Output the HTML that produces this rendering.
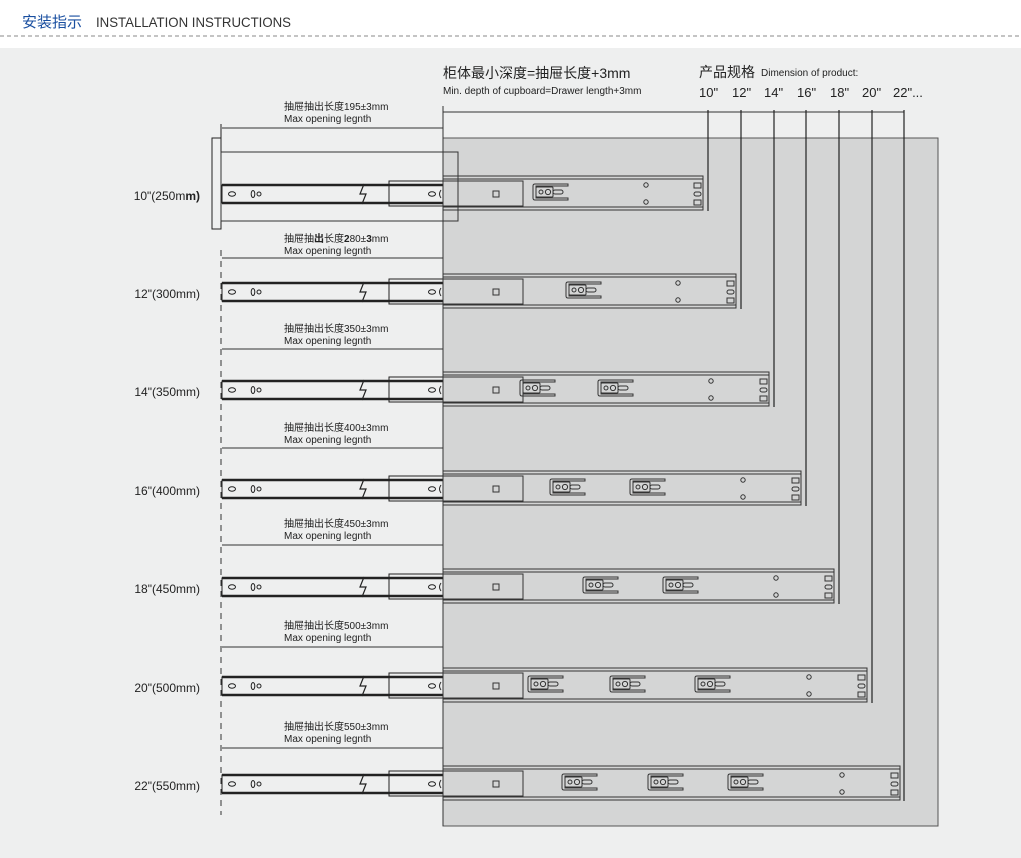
<!DOCTYPE html>
<html><head><meta charset="utf-8"><style>
html,body{margin:0;padding:0;background:#fff;}
svg{display:block;}
text{font-family:"Liberation Sans","Noto Sans CJK SC",sans-serif;fill:#222;}
</style></head><body>
<svg width="1021" height="858" viewBox="0 0 1021 858" xmlns="http://www.w3.org/2000/svg">
<defs>
<g id="left" fill="none" stroke="#222">
  <rect x="222" y="-9" width="221" height="18" fill="#eeefef" stroke-width="1"/>
  <line x1="222" y1="-9" x2="443" y2="-9" stroke-width="2.5"/>
  <line x1="222" y1="9" x2="443" y2="9" stroke-width="2.5"/>
  <ellipse cx="232" cy="0" rx="3.5" ry="2.2" stroke-width="1"/>
  <ellipse cx="253" cy="0" rx="1.8" ry="3.5" stroke-width="1"/>
  <circle cx="259" cy="0" r="2" stroke-width="1"/>
  <path d="M364 -10 L360 0 L366 0 L362 10" stroke-width="1.2" fill="none"/>
  <rect x="389" y="-13" width="54" height="25" stroke-width="1"/>
  <ellipse cx="432" cy="0" rx="3.5" ry="2.2" stroke-width="1"/>
  <path d="M441 -4 Q438 0 441 4" stroke-width="1"/>
</g>
<g id="slot" fill="none" stroke="#333" stroke-width="1">
  <path d="M35 -10 H2 Q0 -10 0 -8 V4 Q0 6 2 6 H35 V4 H3 V-8 H35 Z"/>
  <rect x="3" y="-7" width="17" height="10" rx="1"/>
  <circle cx="8" cy="-2" r="2"/>
  <circle cx="15" cy="-2" r="2.6"/>
  <rect x="20" y="-4" width="10" height="4" rx="2"/>
</g>
<g id="hole" fill="none" stroke="#333" stroke-width="1">
  <circle cx="0" cy="-9" r="2.2"/><circle cx="0" cy="8" r="2.2"/>
</g>
<g id="tabs" fill="none" stroke="#333" stroke-width="1">
  <rect x="0" y="-11" width="7" height="5"/><rect x="0" y="-2" width="7" height="4" rx="2"/><rect x="0" y="6" width="7" height="5"/>
</g>
</defs>
<rect x="0" y="0" width="1021" height="858" fill="#fff"/>
<text x="22" y="27" font-size="15" style="fill:#1a4fa0;font-family:'Liberation Sans','Noto Sans CJK SC',sans-serif">安装指示</text>
<text x="96" y="27" font-size="14" style="fill:#333" textLength="195" lengthAdjust="spacingAndGlyphs">INSTALLATION INSTRUCTIONS</text>
<line x1="0" y1="36" x2="1021" y2="36" stroke="#888" stroke-width="1" stroke-dasharray="4,3"/>
<rect x="0" y="48" width="1021" height="810" fill="#eeefef"/>
<rect x="443" y="138" width="495" height="688" fill="#d4d5d5" stroke="#555" stroke-width="1"/>

<text x="443" y="78" font-size="14">柜体最小深度=抽屉长度+3mm</text>
<text x="443" y="94" font-size="10">Min. depth of cupboard=Drawer length+3mm</text>
<text x="699" y="77" font-size="14">产品规格</text>
<text x="761" y="76" font-size="10">Dimension of product:</text>
<g font-size="13"><text x="699" y="97">10"</text><text x="732" y="97">12"</text><text x="764" y="97">14"</text><text x="797" y="97">16"</text><text x="830" y="97">18"</text><text x="862" y="97">20"</text><text x="893" y="97">22"...</text></g>
<line x1="443" y1="112" x2="904" y2="112" stroke="#333" stroke-width="1"/>
<line x1="443" y1="106" x2="443" y2="826" stroke="#333" stroke-width="1"/>

<g stroke="#222" stroke-width="1.2">
<line x1="708" y1="110" x2="708" y2="211"/>
<line x1="741" y1="110" x2="741" y2="309"/>
<line x1="774" y1="110" x2="774" y2="407"/>
<line x1="806" y1="110" x2="806" y2="506"/>
<line x1="839" y1="110" x2="839" y2="604"/>
<line x1="872" y1="110" x2="872" y2="703"/>
<line x1="904" y1="110" x2="904" y2="801"/>
</g>

<line x1="221" y1="250" x2="221" y2="815" stroke="#333" stroke-width="1" stroke-dasharray="6,5"/>

<!-- row1 drawer -->
<rect x="212" y="138" width="9" height="91" fill="#eeefef" stroke="#222"/>
<line x1="221" y1="124" x2="221" y2="229" stroke="#222"/>
<rect x="221" y="152" width="237" height="69" fill="none" stroke="#333"/>

<g font-size="10">
<text x="284" y="110">抽屉抽出长度195±3mm</text><text x="284" y="122">Max opening legnth</text>
<text x="284" y="242">抽屉抽<tspan font-weight="bold">出</tspan>长度<tspan font-weight="bold">2</tspan>80±<tspan font-weight="bold">3</tspan>mm</text><text x="284" y="254">Max opening legnth</text>
<text x="284" y="332">抽屉抽出长度350±3mm</text><text x="284" y="344">Max opening legnth</text>
<text x="284" y="431">抽屉抽出长度400±3mm</text><text x="284" y="443">Max opening legnth</text>
<text x="284" y="527">抽屉抽出长度450±3mm</text><text x="284" y="539">Max opening legnth</text>
<text x="284" y="629">抽屉抽出长度500±3mm</text><text x="284" y="641">Max opening legnth</text>
<text x="284" y="730">抽屉抽出长度550±3mm</text><text x="284" y="742">Max opening legnth</text>
</g>
<g stroke="#333" stroke-width="1">
<line x1="222" y1="128" x2="443" y2="128"/><line x1="222" y1="258" x2="443" y2="258"/><line x1="222" y1="349" x2="443" y2="349"/><line x1="222" y1="448" x2="443" y2="448"/><line x1="222" y1="545" x2="443" y2="545"/><line x1="222" y1="647" x2="443" y2="647"/><line x1="222" y1="748" x2="443" y2="748"/>
</g>

<g font-size="12" text-anchor="end">
<text x="200" y="200">10"(250m<tspan font-weight="bold">m)</tspan></text>
<text x="200" y="298">12"(300mm)</text>
<text x="200" y="396">14"(350mm)</text>
<text x="200" y="495">16"(400mm)</text>
<text x="200" y="593">18"(450mm)</text>
<text x="200" y="692">20"(500mm)</text>
<text x="200" y="790">22"(550mm)</text>
</g>

<!-- rows -->
<g id="r1" transform="translate(0,194)">
<use href="#left"/>
<g fill="none" stroke="#333"><path d="M443 -18 H703 V16 H443 M443 -15 H703 M443 13 H703"/><rect x="443" y="-13" width="80" height="25"/><rect x="493" y="-3" width="6" height="6"/></g>
<use href="#slot" x="533"/><use href="#hole" x="646"/><use href="#tabs" x="694"/>
</g>
<g transform="translate(0,292)">
<use href="#left"/>
<g fill="none" stroke="#333"><path d="M443 -18 H736 V16 H443 M443 -15 H736 M443 13 H736"/><rect x="443" y="-13" width="80" height="25"/><rect x="493" y="-3" width="6" height="6"/></g>
<use href="#slot" x="566"/><use href="#hole" x="678"/><use href="#tabs" x="727"/>
</g>
<g transform="translate(0,390)">
<use href="#left"/>
<g fill="none" stroke="#333"><path d="M443 -18 H769 V16 H443 M443 -15 H769 M443 13 H769"/><rect x="443" y="-13" width="80" height="25"/><rect x="493" y="-3" width="6" height="6"/></g>
<use href="#slot" x="520"/><use href="#slot" x="598"/><use href="#hole" x="711"/><use href="#tabs" x="760"/>
</g>
<g transform="translate(0,489)">
<use href="#left"/>
<g fill="none" stroke="#333"><path d="M443 -18 H801 V16 H443 M443 -15 H801 M443 13 H801"/><rect x="443" y="-13" width="80" height="25"/><rect x="493" y="-3" width="6" height="6"/></g>
<use href="#slot" x="550"/><use href="#slot" x="630"/><use href="#hole" x="743"/><use href="#tabs" x="792"/>
</g>
<g transform="translate(0,587)">
<use href="#left"/>
<g fill="none" stroke="#333"><path d="M443 -18 H834 V16 H443 M443 -15 H834 M443 13 H834"/><rect x="443" y="-13" width="80" height="25"/><rect x="493" y="-3" width="6" height="6"/></g>
<use href="#slot" x="583"/><use href="#slot" x="663"/><use href="#hole" x="776"/><use href="#tabs" x="825"/>
</g>
<g transform="translate(0,686)">
<use href="#left"/>
<g fill="none" stroke="#333"><path d="M443 -18 H867 V16 H443 M443 -15 H867 M443 13 H867"/><rect x="443" y="-13" width="80" height="25"/><rect x="493" y="-3" width="6" height="6"/></g>
<use href="#slot" x="528"/><use href="#slot" x="610"/><use href="#slot" x="695"/><use href="#hole" x="809"/><use href="#tabs" x="858"/>
</g>
<g transform="translate(0,784)">
<use href="#left"/>
<g fill="none" stroke="#333"><path d="M443 -18 H900 V16 H443 M443 -15 H900 M443 13 H900"/><rect x="443" y="-13" width="80" height="25"/><rect x="493" y="-3" width="6" height="6"/></g>
<use href="#slot" x="562"/><use href="#slot" x="648"/><use href="#slot" x="728"/><use href="#hole" x="842"/><use href="#tabs" x="891"/>
</g>
</svg>
</body></html>
